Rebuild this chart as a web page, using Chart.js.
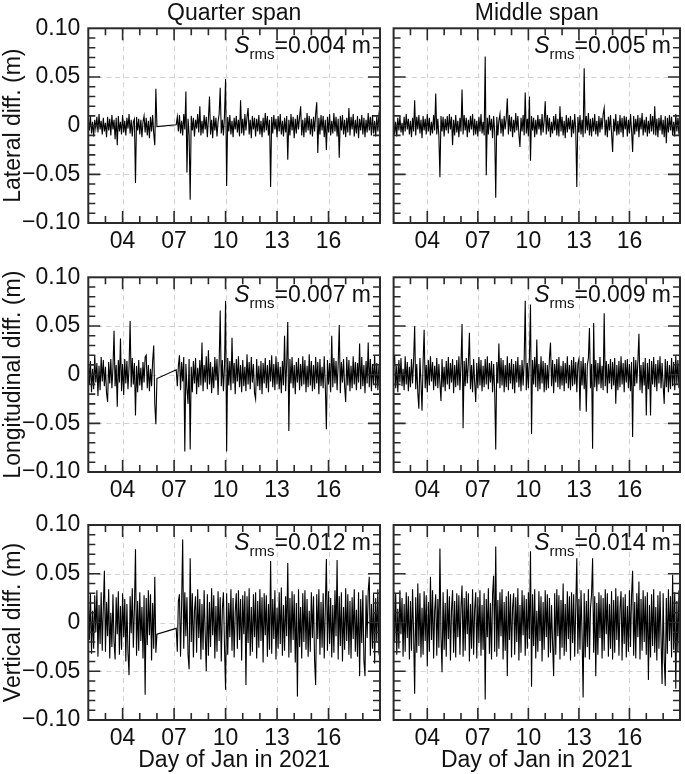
<!DOCTYPE html>
<html>
<head>
<meta charset="utf-8">
<script src="https://cdn.jsdelivr.net/npm/chart.js@4"></script>
<style>
  body { margin: 0; background: #fff; }
  #wrap { position: relative; width: 685px; height: 774px; }
  #wrap canvas { position: absolute; }
</style>
</head>
<body>
<div id="wrap"></div>
<script>
// differences in mm, one reading every 1/16 day (one row = one day)
const step = 0.0625;
const quarterStartA = 2;      // before the data gap
const quarterStartB = 7.125;  // after the data gap
const middleStart = 2;

const latQuarterA = [
  7,-5,10,-8,4,-11,6,-3,9,-7,12,-4,5,-9,8,-6,
  3,-12,9,-5,7,-10,11,-4,6,-14,8,-20,10,-6,4,-9,
  11,-7,5,-10,8,-3,12,-8,6,-11,4,7,-59,9,-5,7,
  -9,6,-12,4,10,-7,8,-10,5,-13,9,-6,11,-8,-20,38,
  -1];
const latQuarterB = [
  1,9,-6,11,-8,5,-10,12,-4,35,-48,7,-9,-76,10,-5,
  8,-11,6,-3,12,-7,20,-10,5,-8,11,-4,9,-12,7,30,
  -9,6,-13,10,-5,8,-11,4,12,39,-8,6,-10,11,48,-62,
  9,-6,11,-9,5,-12,8,-4,10,-7,6,-11,26,-8,7,-10,
  12,-5,9,18,-9,6,-13,10,-4,8,-11,7,-6,11,-9,5,
  -12,8,-7,13,-5,10,-10,6,-63,9,-8,11,-4,7,-12,10,
  -6,12,-9,5,-11,8,-7,10,-35,6,-10,12,-5,9,-13,7,
  -8,11,-4,9,20,-10,6,-12,8,-7,13,-5,10,-9,7,-11,
  9,-6,12,24,-28,8,-9,11,-5,10,-12,6,-25,9,-7,12,
  -10,5,-8,13,-6,9,-11,7,-33,10,-5,11,-9,6,-12,8,
  -7,18,-10,9,-4,12,-11,6,-8,10,-13,7,-5,11,-9,8,
  -12,6,-7,13,-5,9,-10,11,-8,5,-11,10,-6,12,20];
const latMiddle = [
  6,-9,4,-11,8,-5,10,-7,3,-10,9,-6,12,-4,7,-9,
  5,-12,8,-6,26,-10,9,-4,11,-8,6,-13,10,-5,7,-9,
  12,-6,8,-10,4,-8,11,-5,33,-9,7,-11,-53,10,-6,9,
  -11,7,-5,10,-8,12,-4,9,-20,6,-10,11,-7,5,-12,8,
  -6,37,-9,11,-5,8,-12,6,-7,10,-4,12,-10,7,-9,5,
  -11,9,-6,12,-8,4,-10,71,-51,8,-9,11,-5,7,-13,10,
  -6,-74,9,-10,5,12,-8,7,-11,10,-4,8,28,-9,11,-6,
  9,-12,6,-7,13,-5,10,-9,-22,8,-6,11,-10,34,-8,7,
  -11,30,-36,10,-5,8,-12,6,-9,11,-4,7,-10,12,-7,5,
  25,-9,11,-6,8,-12,4,-8,10,-5,12,-10,7,-11,20,-6,
  9,-10,5,-13,11,-7,8,-4,10,-12,6,-8,12,-5,-63,9,
  -7,11,-9,6,-12,59,-8,10,-5,13,-10,7,-11,8,-6,12,
  -9,5,-11,10,-7,8,-4,12,18,-10,6,-12,9,-5,11,-8,
  -27,7,-6,12,-10,5,-9,11,-7,8,-12,10,-4,9,-11,6,
  -8,12,-5,-27,10,-9,7,-6,11,-12,8,-4,13,-10,6,-7,
  9,-11,5,-8,12,-6,10,-9,20,-10,7,-12,8,-5,11,-9,
  6,-12,10,-18,8,-7,11,-5,9,-10,4,-11,12,-6,8,-9,
  25];

const lonQuarterA = [
  17,-10,14,-18,6,-15,20,-8,12,-22,9,-16,18,-7,15,-12,
  8,-19,-28,13,-9,16,-14,7,45,-12,10,-33,15,-8,37,-17,
  11,-21,16,-9,14,-15,8,55,-13,17,-10,12,-42,9,-18,15,
  -11,7,-16,13,-8,18,20,-14,10,-17,6,-12,14,30,-30,-51,
  -4];
const lonQuarterB = [
  5,-12,9,20,-16,13,-7,18,-79,11,-14,-30,16,-77,8,-18,
  14,-9,17,-20,7,-13,15,-11,33,-17,10,-8,19,-15,25,-10,
  13,-19,8,-14,18,-6,16,-21,11,66,-12,15,-17,9,76,-79,
  17,-11,14,-16,38,-9,12,-20,16,-7,19,-13,10,-18,15,-12,
  8,-17,21,-10,13,-15,18,-8,11,-19,-25,16,-12,9,-16,14,
  -20,12,-9,17,-14,10,-18,15,-7,20,-13,11,-16,19,-10,13,
  -15,8,-19,14,-11,40,-17,12,54,-58,16,-9,18,-14,10,-20,
  13,-8,17,-16,11,-12,19,-10,15,-18,9,-13,21,-11,14,-17,
  10,-15,18,-9,13,-20,16,-12,8,-14,19,-11,-56,15,-10,12,
  -18,40,-13,17,-9,14,-16,11,51,-19,13,-8,16,-12,-28,18,
  -11,15,-17,9,-14,19,-10,13,-16,12,-8,32,-15,18,-12,10,
  -19,14,-9,33,-13,16,-17,11,-10,20,-14,12,-16,9,-12];
const lonMiddle = [
  12,20,-14,9,-18,15,-8,17,-12,6,-16,19,-10,13,-17,8,
  -13,16,-9,14,50,-15,11,-19,-35,17,-8,-37,12,46,-14,10,
  -18,15,-11,19,-7,13,-16,9,-12,17,-14,11,-9,-27,16,-13,
  8,-17,14,-10,18,-15,12,-8,16,-19,10,-13,15,-11,19,-16,
  11,52,-55,14,-12,17,-9,13,43,-15,10,-18,16,-8,-28,12,
  -14,18,-11,15,-17,9,-13,16,-10,19,-15,12,-8,14,-18,11,
  -16,-77,13,-9,32,-14,17,-11,15,-18,10,-13,19,-16,12,-9,
  16,-15,11,-19,14,-8,18,-13,10,-17,15,-11,13,76,-16,12,
  -14,17,72,-61,15,-10,18,-13,36,-17,11,-15,19,-9,14,-18,
  12,-16,10,-14,17,33,-12,15,-19,11,-8,16,-13,18,-15,9,
  -11,14,-17,12,-9,19,-14,10,-16,15,-12,18,-10,13,-18,11,
  16,-37,14,-11,18,-15,12,-38,10,17,48,-14,11,-76,53,-13,
  15,-17,12,-10,18,-14,9,-16,63,-12,14,-19,11,-9,16,-15,
  13,-11,17,-30,10,-16,14,-13,19,-10,12,-18,15,-8,16,-14,
  11,-17,13,-64,18,-12,15,-9,14,42,-16,10,-19,13,-11,17,
  -42,12,-15,16,-42,14,-10,18,-13,11,-17,15,-9,19,-14,12,
  -11,-30,16,-13,14,-18,10,-15,17,-12,13,-16,20,-10,15,-14,
  6];

const vertQuarterA = [
  25,-18,30,-32,12,-27,28,-10,33,-35,18,-22,31,-29,15,53,
  -30,21,-14,34,-37,10,-25,29,-20,-38,26,-12,32,-33,17,-28,
  30,-15,24,-40,19,-31,-54,27,-11,35,-26,14,75,-34,22,-29,
  31,-19,16,-37,28,-74,25,-23,33,-13,29,-39,20,-27,47,-31,
  -12];
const vertQuarterB = [
  -6,-30,22,29,-35,18,85,-27,31,-14,26,-33,-48,66,-20,30,
  -36,12,27,-31,34,-16,24,-38,19,-28,33,-11,-50,29,-34,21,
  -25,35,-13,28,-37,17,-30,32,-19,26,-40,14,31,-24,-69,30,
  -33,20,-15,34,-29,25,-36,11,30,-27,33,-18,24,-39,28,-12,
  32,-64,27,-21,35,-34,16,-30,29,-15,31,-37,22,-26,34,-19,
  26,-41,30,-13,28,-35,19,-28,63,-32,24,-17,33,-38,15,-27,
  31,-22,36,-34,18,-29,27,-14,61,-36,25,-31,32,-18,29,-41,
  20,-76,34,-25,16,-37,30,-20,33,-28,24,-35,12,-30,31,-16,
  27,-39,-64,29,-17,34,-33,21,-26,30,-37,15,65,-29,32,-22,
  25,-36,18,-31,33,-14,64,-38,27,-24,31,-40,16,-28,35,-19,
  29,-33,22,-37,26,-17,34,-30,13,-35,31,-55,24,-21,33,-39,
  -55,28,-16,32,47,-34,19,-27,30,-42,25,-20,34,-31,-38];
const vertMiddle = [
  28,-20,30,-33,14,-27,33,-12,25,-35,19,-30,31,-16,27,-38,
  22,-29,34,-11,-73,26,-31,40,-24,30,-36,15,-33,32,-19,28,
  -45,21,-30,47,-18,33,-37,12,29,-34,24,-26,76,-14,-51,31,
  -28,20,-35,34,-17,27,-39,13,33,-31,22,-36,30,-15,28,-33,
  16,38,-35,25,-29,32,-12,30,-40,19,-27,34,-33,14,31,-37,
  26,-21,33,-34,18,-28,30,-79,24,-15,35,-32,20,-38,29,48,
  -30,78,-35,23,-27,31,-14,34,-38,21,-29,27,-55,32,-18,29,
  -36,15,30,-33,26,-20,35,-39,18,-31,33,-13,28,-34,24,-27,
  31,-17,73,-66,29,-24,34,-37,12,-30,32,-19,27,-40,21,-28,
  33,-15,29,-36,25,-31,18,-22,-55,30,-33,34,-14,28,-38,23,
  -26,40,-34,19,-30,32,-17,27,-39,31,-21,29,-35,16,66,-32,
  24,-28,33,-13,-77,30,-36,22,-25,34,-38,15,29,66,-31,27,
  -55,20,-33,31,-16,28,-37,25,-29,34,-12,30,-35,19,-27,32,
  -38,23,-31,35,-18,27,-34,14,32,-39,26,-22,29,-36,17,-30,
  33,-25,28,53,-34,21,-37,30,-15,42,-38,24,-29,33,-20,27,
  -33,31,-59,18,-36,29,-24,34,-31,16,-39,28,-27,32,-17,-63,
  30,-38,-65,25,-32,34,-19,27,-36,49,-28,31,-68,22,-30,33,
  -10];

const spanTitles = ["Quarter span", "Middle span"];
const rowTitles = ["Lateral diff. (m)", "Longitudinal diff. (m)", "Vertical diff. (m)"];
const srmsQuarter = [0.004, 0.007, 0.012];
const srmsMiddle = [0.005, 0.009, 0.014];
const xTickDays = [4, 7, 10, 13, 16];
const xTickLabels = ["04", "07", "10", "13", "16"];
const yTickValues = [-0.10, -0.05, 0, 0.05, 0.10];
const yTickLabels = ["\u22120.10", "\u22120.05", "0", "0.05", "0.10"];
const xTitle = "Day of Jan in 2021";

const FONT = '"Liberation Sans", Arial, Helvetica, sans-serif';

function series(values, start) {
  return values.map((v, i) => ({ x: start + i * step, y: v / 1000 }));
}

const panelData = [
  [series(latQuarterA, quarterStartA).concat(series(latQuarterB, quarterStartB)), series(latMiddle, middleStart)],
  [series(lonQuarterA, quarterStartA).concat(series(lonQuarterB, quarterStartB)), series(lonMiddle, middleStart)],
  [series(vertQuarterA, quarterStartA).concat(series(vertQuarterB, quarterStartB)), series(vertMiddle, middleStart)]
];
const srms = [srmsQuarter, srmsMiddle];

// canvas boxes and the plot area inside them
const cols = [
  { left: 0, width: 385, areaLeft: 88.3, areaRight: 381 },
  { left: 385, width: 300, areaLeft: 4.3, areaRight: 296.5 }
];
const rows = [
  { top: 0, height: 250, areaTop: 28.3, areaBottom: 223 },
  { top: 250, height: 250, areaTop: 27.3, areaBottom: 222 },
  { top: 500, height: 274, areaTop: 25, areaBottom: 220 }
];

const framePlugin = {
  id: "frame",
  beforeDatasetsDraw(chart) {
    const { ctx, chartArea: a, scales: { x, y } } = chart;
    ctx.save();
    ctx.strokeStyle = "#d2d2d2";
    ctx.lineWidth = 1;
    ctx.setLineDash([5, 4]);
    ctx.beginPath();
    xTickDays.forEach(d => {
      const px = Math.round(x.getPixelForValue(d)) + 0.5;
      ctx.moveTo(px, a.top);
      ctx.lineTo(px, a.bottom);
    });
    [-0.05, 0, 0.05].forEach(v => {
      const py = Math.round(y.getPixelForValue(v)) + 0.5;
      ctx.moveTo(a.left, py);
      ctx.lineTo(a.right, py);
    });
    ctx.stroke();
    ctx.restore();
  },
  afterDatasetsDraw(chart) {
    const { ctx, chartArea: a, scales: { x, y } } = chart;
    ctx.save();
    ctx.strokeStyle = "#2a2a2a";
    ctx.lineWidth = 1.6;
    ctx.beginPath();
    for (let d = 3; d <= 18; d++) {
      const px = x.getPixelForValue(d);
      const len = xTickDays.includes(d) ? 12 : 7;
      ctx.moveTo(px, a.bottom);
      ctx.lineTo(px, a.bottom - len);
      ctx.moveTo(px, a.top);
      ctx.lineTo(px, a.top + len);
    }
    for (let k = -9; k <= 9; k++) {
      const py = y.getPixelForValue(k / 100);
      const len = k % 5 === 0 ? 12 : 7;
      ctx.moveTo(a.left, py);
      ctx.lineTo(a.left + len, py);
      ctx.moveTo(a.right, py);
      ctx.lineTo(a.right - len, py);
    }
    ctx.stroke();
    ctx.lineWidth = 2;
    ctx.strokeRect(a.left, a.top, a.right - a.left, a.bottom - a.top);
    ctx.restore();
  },
  afterDraw(chart, args, opts) {
    const { ctx, chartArea: a } = chart;
    ctx.save();
    ctx.fillStyle = "#111";
    if (opts.title) {
      ctx.font = `23px ${FONT}`;
      ctx.textAlign = "center";
      ctx.textBaseline = "middle";
      ctx.fillText(opts.title, (a.left + a.right) / 2, 14);
    }
    const main = "=" + opts.srms.toFixed(3) + " m";
    const base = a.top + 25;
    ctx.textAlign = "left";
    ctx.textBaseline = "alphabetic";
    ctx.font = `23px ${FONT}`;
    const wMain = ctx.measureText(main).width;
    ctx.font = `15px ${FONT}`;
    const wSub = ctx.measureText("rms").width;
    ctx.font = `italic 23px ${FONT}`;
    const wS = ctx.measureText("S").width;
    let tx = a.right - 9 - wMain - wSub - wS;
    ctx.fillText("S", tx, base);
    tx += wS;
    ctx.font = `15px ${FONT}`;
    ctx.fillText("rms", tx, base + 6);
    tx += wSub;
    ctx.font = `23px ${FONT}`;
    ctx.fillText(main, tx, base);
    ctx.restore();
  }
};

const wrap = document.getElementById("wrap");

rows.forEach((r, row) => {
  cols.forEach((c, col) => {
    const canvas = document.createElement("canvas");
    canvas.width = c.width;
    canvas.height = r.height;
    canvas.style.left = c.left + "px";
    canvas.style.top = r.top + "px";
    canvas.style.width = c.width + "px";
    canvas.style.height = r.height + "px";
    wrap.appendChild(canvas);

    new Chart(canvas, {
      type: "line",
      data: {
        datasets: [{
          data: panelData[row][col],
          borderColor: "#000",
          borderWidth: 1.1,
          pointRadius: 0,
          tension: 0
        }]
      },
      plugins: [framePlugin],
      options: {
        responsive: false,
        animation: false,
        devicePixelRatio: 1,
        events: [],
        layout: {
          padding: {
            top: r.areaTop,
            left: col === 0 ? 0 : c.areaLeft,
            right: c.width - c.areaRight,
            bottom: 0
          }
        },
        plugins: {
          legend: { display: false },
          tooltip: { enabled: false },
          frame: {
            title: row === 0 ? spanTitles[col] : null,
            srms: srms[col][row]
          }
        },
        scales: {
          x: {
            type: "linear",
            min: 2,
            max: 19,
            grid: { display: false, drawTicks: false },
            border: { display: false },
            ticks: {
              stepSize: 1,
              autoSkip: false,
              maxRotation: 0,
              padding: 5,
              color: "#111",
              font: { family: FONT, size: 23 },
              callback: v => {
                const k = xTickDays.indexOf(Math.round(v));
                return k >= 0 && Math.abs(v - xTickDays[k]) < 1e-6 ? xTickLabels[k] : "";
              }
            },
            title: {
              display: row === 2,
              text: xTitle,
              color: "#111",
              font: { family: FONT, size: 23 },
              padding: { top: 0, bottom: 0 }
            },
            afterFit: s => { s.height = r.height - r.areaBottom; }
          },
          y: {
            display: col === 0,
            min: -0.1,
            max: 0.1,
            grid: { display: false, drawTicks: false },
            border: { display: false },
            ticks: {
              stepSize: 0.05,
              padding: 8,
              color: "#111",
              font: { family: FONT, size: 23 },
              callback: v => {
                const k = yTickValues.findIndex(t => Math.abs(t - v) < 1e-9);
                return k >= 0 ? yTickLabels[k] : "";
              }
            },
            title: {
              display: true,
              text: rowTitles[row],
              color: "#111",
              font: { family: FONT, size: 23 },
              padding: 0
            },
            afterFit: s => { s.width = c.areaLeft; }
          }
        }
      }
    });
  });
});
</script>
</body>
</html>
